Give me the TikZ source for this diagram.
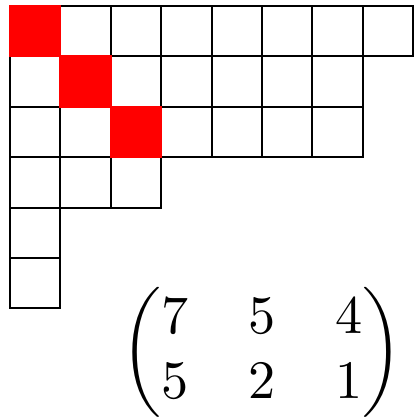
\documentclass[tikz,border=0pt]{standalone}
\usepackage{amsmath}
\usepackage{xcolor}
\definecolor{DiagRed}{HTML}{FF0000}
\newcommand{\youngrow}[2]{% row, length
  \foreach \c in {1,...,#2} {
    \draw[black, line width=1.1pt] (\c-1,-#1) rectangle (\c,-#1+1);
  }
}
\newcommand{\diagcell}[1]{% index along the diagonal
  \fill[DiagRed] (#1-1.02,-#1-0.02) rectangle (#1+0.02,-#1+1.02);
}

\begin{document}
\begin{tikzpicture}

\useasboundingbox (-0.2,-8.21) rectangle (8.135,0.12);

% Rows of the diagram
\youngrow{1}{8}
\youngrow{2}{7}
\youngrow{3}{7}
\youngrow{4}{3}
\youngrow{5}{1}
\youngrow{6}{1}

% Diagonal cells
\diagcell{1}
\diagcell{2}
\diagcell{3}

% Frobenius coordinates
\node[scale=3.06] (frob) at (5.0,-6.88)
  {$\setlength{\arraycolsep}{5.5pt}\begin{pmatrix}7&5&4\\5&2&1\end{pmatrix}$};

\end{tikzpicture}
\end{document}
